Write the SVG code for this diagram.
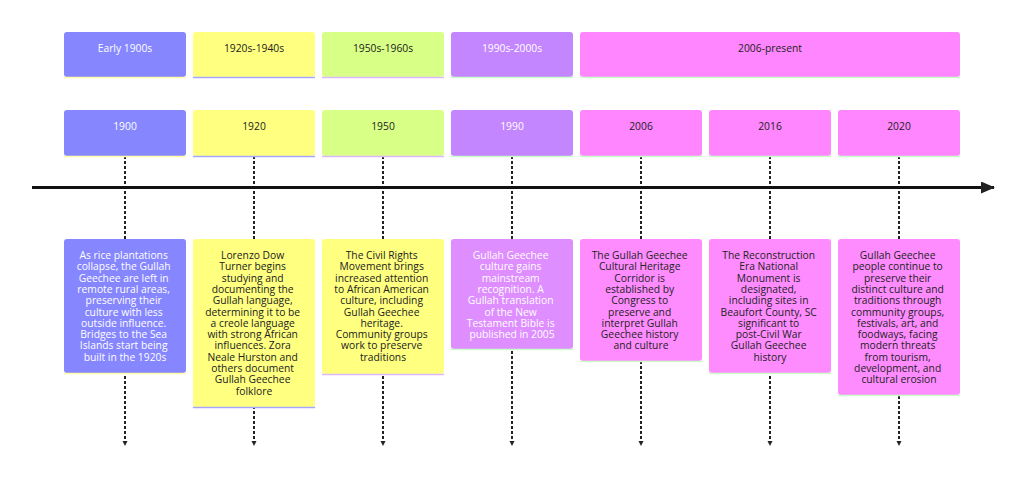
<svg xmlns="http://www.w3.org/2000/svg" width="1024" height="480" viewBox="0 0 1024 480">
<defs>
<style>
.t{font-family:"Open Sans","Noto Sans","Liberation Sans",sans-serif;font-size:10.3px;text-anchor:middle}
.l{fill:#ffffff}
.d{fill:#222222}
.c1{fill:#8686ff}
.c2{fill:#ffff80}
.c3{fill:#d8ff86}
.c4{fill:#c386ff}
.c5{fill:#ff86ff}
.c6{fill:#de8eff}
.c7{fill:#ff8cff}
.e1{stroke:#ffffa8;stroke-width:1.5}
.e2{stroke:#a6a6ff;stroke-width:1.5}
.e3{stroke:#ddb8ff;stroke-width:1.5}
.e4{stroke:#caffca;stroke-width:1.5}
.e5{stroke:#caffca;stroke-width:1.5}
.dash{stroke:#222;stroke-width:2;stroke-dasharray:3,2;fill:none;marker-end:url(#sa)}
</style>
<marker id="sa" markerWidth="6" markerHeight="6" refX="5" refY="3" orient="auto" markerUnits="userSpaceOnUse">
<path d="M0,0.5 L5,3 L0,5.5 Z" fill="#222"/>
</marker>
<marker id="ba" markerWidth="14" markerHeight="12" refX="13" refY="6" orient="auto" markerUnits="userSpaceOnUse">
<path d="M0,0 L14,6 L0,12 Z" fill="#222"/>
</marker>
</defs>
<rect width="1024" height="480" fill="#ffffff"/>

<g id="connectors">
<line class="dash" x1="125" y1="156" x2="125" y2="446"/>
<line class="dash" x1="254" y1="156" x2="254" y2="446"/>
<line class="dash" x1="383" y1="156" x2="383" y2="446"/>
<line class="dash" x1="512" y1="156" x2="512" y2="446"/>
<line class="dash" x1="641" y1="156" x2="641" y2="446"/>
<line class="dash" x1="770" y1="156" x2="770" y2="446"/>
<line class="dash" x1="899" y1="156" x2="899" y2="446"/>
<line x1="32" y1="187.5" x2="994" y2="187.5" stroke="#111" stroke-width="3" marker-end="url(#ba)"/>
</g>

<g id="section-early-1900s">
<rect class="c1" x="64" y="32" width="122" height="45" rx="3"/>
<line class="e1" x1="64" y1="77.5" x2="186" y2="77.5"/>
<text class="t l" x="125" y="52">Early 1900s</text>
</g>
<g id="section-1920s-1940s">
<rect class="c2" x="193" y="32" width="122" height="45" rx="3"/>
<line class="e2" x1="193" y1="77.5" x2="315" y2="77.5"/>
<text class="t d" x="254" y="52">1920s-1940s</text>
</g>
<g id="section-1950s-1960s">
<rect class="c3" x="322" y="32" width="122" height="45" rx="3"/>
<line class="e3" x1="322" y1="77.5" x2="444" y2="77.5"/>
<text class="t d" x="383" y="52">1950s-1960s</text>
</g>
<g id="section-1990s-2000s">
<rect class="c4" x="451" y="32" width="122" height="45" rx="3"/>
<line class="e4" x1="451" y1="77.5" x2="573" y2="77.5"/>
<text class="t l" x="512" y="52">1990s-2000s</text>
</g>
<g id="section-2006-present">
<rect class="c5" x="580" y="32" width="380" height="45" rx="3"/>
<line class="e5" x1="580" y1="77.5" x2="960" y2="77.5"/>
<text class="t d" x="770" y="52">2006-present</text>
</g>

<g id="period-1900">
<rect class="c1" x="64" y="110" width="122" height="46" rx="3"/>
<line class="e1" x1="64" y1="156.5" x2="186" y2="156.5"/>
<text class="t l" x="125" y="130">1900</text>
</g>
<g id="period-1920">
<rect class="c2" x="193" y="110" width="122" height="46" rx="3"/>
<line class="e2" x1="193" y1="156.5" x2="315" y2="156.5"/>
<text class="t d" x="254" y="130">1920</text>
</g>
<g id="period-1950">
<rect class="c3" x="322" y="110" width="122" height="46" rx="3"/>
<line class="e3" x1="322" y1="156.5" x2="444" y2="156.5"/>
<text class="t d" x="383" y="130">1950</text>
</g>
<g id="period-1990">
<rect class="c4" x="451" y="110" width="122" height="46" rx="3"/>
<line class="e4" x1="451" y1="156.5" x2="573" y2="156.5"/>
<text class="t l" x="512" y="130">1990</text>
</g>
<g id="period-2006">
<rect class="c5" x="580" y="110" width="122" height="46" rx="3"/>
<line class="e5" x1="580" y1="156.5" x2="702" y2="156.5"/>
<text class="t d" x="641" y="130">2006</text>
</g>
<g id="period-2016">
<rect class="c5" x="709" y="110" width="122" height="46" rx="3"/>
<line class="e5" x1="709" y1="156.5" x2="831" y2="156.5"/>
<text class="t d" x="770" y="130">2016</text>
</g>
<g id="period-2020">
<rect class="c5" x="838" y="110" width="122" height="46" rx="3"/>
<line class="e5" x1="838" y1="156.5" x2="960" y2="156.5"/>
<text class="t d" x="899" y="130">2020</text>
</g>

<g id="event-1900">
<rect class="c1" x="64" y="239" width="122" height="134" rx="3"/>
<line class="e1" x1="64" y1="373.5" x2="186" y2="373.5"/>
<text class="t l" x="125" y="259">
<tspan x="125" dy="0">As rice plantations</tspan>
<tspan x="125" dy="11.3">collapse, the Gullah</tspan>
<tspan x="125" dy="11.3">Geechee are left in</tspan>
<tspan x="125" dy="11.3">remote rural areas,</tspan>
<tspan x="125" dy="11.3">preserving their</tspan>
<tspan x="125" dy="11.3">culture with less</tspan>
<tspan x="125" dy="11.3">outside influence.</tspan>
<tspan x="125" dy="11.3">Bridges to the Sea</tspan>
<tspan x="125" dy="11.3">Islands start being</tspan>
<tspan x="125" dy="11.3">built in the 1920s</tspan>
</text>
</g>
<g id="event-1920">
<rect class="c2" x="193" y="239" width="122" height="168" rx="3"/>
<line class="e2" x1="193" y1="407.5" x2="315" y2="407.5"/>
<text class="t d" x="254" y="259">
<tspan x="254" dy="0">Lorenzo Dow</tspan>
<tspan x="254" dy="11.3">Turner begins</tspan>
<tspan x="254" dy="11.3">studying and</tspan>
<tspan x="254" dy="11.3">documenting the</tspan>
<tspan x="254" dy="11.3">Gullah language,</tspan>
<tspan x="254" dy="11.3">determining it to be</tspan>
<tspan x="254" dy="11.3">a creole language</tspan>
<tspan x="254" dy="11.3">with strong African</tspan>
<tspan x="254" dy="11.3">influences. Zora</tspan>
<tspan x="254" dy="11.3">Neale Hurston and</tspan>
<tspan x="254" dy="11.3">others document</tspan>
<tspan x="254" dy="11.3">Gullah Geechee</tspan>
<tspan x="254" dy="11.3">folklore</tspan>
</text>
</g>
<g id="event-1950">
<rect class="c2" x="322" y="239" width="122" height="135" rx="3"/>
<line class="e3" x1="322" y1="374.5" x2="444" y2="374.5"/>
<text class="t d" x="383" y="259">
<tspan x="383" dy="0">The Civil Rights</tspan>
<tspan x="383" dy="11.3">Movement brings</tspan>
<tspan x="383" dy="11.3">increased attention</tspan>
<tspan x="383" dy="11.3">to African American</tspan>
<tspan x="383" dy="11.3">culture, including</tspan>
<tspan x="383" dy="11.3">Gullah Geechee</tspan>
<tspan x="383" dy="11.3">heritage.</tspan>
<tspan x="383" dy="11.3">Community groups</tspan>
<tspan x="383" dy="11.3">work to preserve</tspan>
<tspan x="383" dy="11.3">traditions</tspan>
</text>
</g>
<g id="event-1990">
<rect class="c6" x="451" y="239" width="122" height="110" rx="3"/>
<line class="e4" x1="451" y1="349.5" x2="573" y2="349.5"/>
<text class="t l" x="512" y="259">
<tspan x="512" dy="0">Gullah Geechee</tspan>
<tspan x="512" dy="11.3">culture gains</tspan>
<tspan x="512" dy="11.3">mainstream</tspan>
<tspan x="512" dy="11.3">recognition. A</tspan>
<tspan x="512" dy="11.3">Gullah translation</tspan>
<tspan x="512" dy="11.3">of the New</tspan>
<tspan x="512" dy="11.3">Testament Bible is</tspan>
<tspan x="512" dy="11.3">published in 2005</tspan>
</text>
</g>
<g id="event-2006">
<rect class="c7" x="580" y="239" width="122" height="122" rx="3"/>
<line class="e5" x1="580" y1="361.5" x2="702" y2="361.5"/>
<text class="t d" x="641" y="259">
<tspan x="641" dy="0">The Gullah Geechee</tspan>
<tspan x="641" dy="11.3">Cultural Heritage</tspan>
<tspan x="641" dy="11.3">Corridor is</tspan>
<tspan x="641" dy="11.3">established by</tspan>
<tspan x="641" dy="11.3">Congress to</tspan>
<tspan x="641" dy="11.3">preserve and</tspan>
<tspan x="641" dy="11.3">interpret Gullah</tspan>
<tspan x="641" dy="11.3">Geechee history</tspan>
<tspan x="641" dy="11.3">and culture</tspan>
</text>
</g>
<g id="event-2016">
<rect class="c7" x="709" y="239" width="122" height="134" rx="3"/>
<line class="e5" x1="709" y1="373.5" x2="831" y2="373.5"/>
<text class="t d" x="770" y="259">
<tspan x="770" dy="0">The Reconstruction</tspan>
<tspan x="770" dy="11.3">Era National</tspan>
<tspan x="770" dy="11.3">Monument is</tspan>
<tspan x="770" dy="11.3">designated,</tspan>
<tspan x="770" dy="11.3">including sites in</tspan>
<tspan x="770" dy="11.3">Beaufort County, SC</tspan>
<tspan x="770" dy="11.3">significant to</tspan>
<tspan x="770" dy="11.3">post-Civil War</tspan>
<tspan x="770" dy="11.3">Gullah Geechee</tspan>
<tspan x="770" dy="11.3">history</tspan>
</text>
</g>
<g id="event-2020">
<rect class="c7" x="838" y="239" width="122" height="156" rx="3"/>
<line class="e5" x1="838" y1="395.5" x2="960" y2="395.5"/>
<text class="t d" x="899" y="259">
<tspan x="899" dy="0">Gullah Geechee</tspan>
<tspan x="899" dy="11.3">people continue to</tspan>
<tspan x="899" dy="11.3">preserve their</tspan>
<tspan x="899" dy="11.3">distinct culture and</tspan>
<tspan x="899" dy="11.3">traditions through</tspan>
<tspan x="899" dy="11.3">community groups,</tspan>
<tspan x="899" dy="11.3">festivals, art, and</tspan>
<tspan x="899" dy="11.3">foodways, facing</tspan>
<tspan x="899" dy="11.3">modern threats</tspan>
<tspan x="899" dy="11.3">from tourism,</tspan>
<tspan x="899" dy="11.3">development, and</tspan>
<tspan x="899" dy="11.3">cultural erosion</tspan>
</text>
</g>
</svg>
